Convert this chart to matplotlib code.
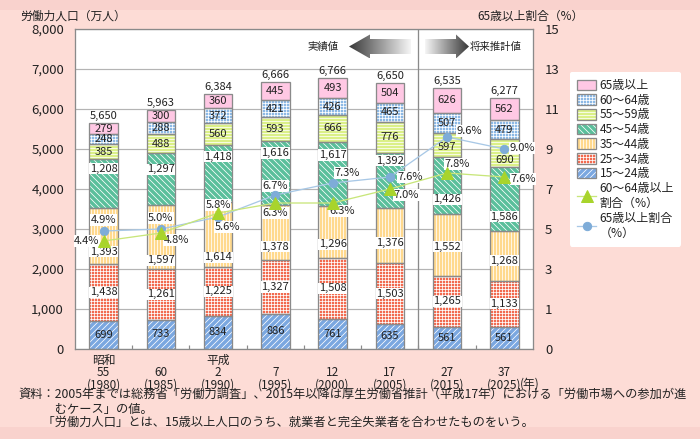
import matplotlib.pyplot as plt
import numpy as np
from matplotlib.patches import Patch, Polygon, Rectangle
from matplotlib.colors import LinearSegmentedColormap

# drawn at 72 dpi so that hatch spacing lands on whole pixels
K = 100 / 72

plt.rcParams['font.family'] = ['Noto Sans CJK JP', 'DejaVu Sans']
plt.rcParams['hatch.color'] = 'white'
plt.rcParams['hatch.linewidth'] = 0.75

# ---- data ----
eras = ['昭和', '', '平成', '', '', '', '', '']
era_years = ['55', '60', '2', '7', '12', '17', '27', '37']
ad_years = ['(1980)', '(1985)', '(1990)', '(1995)', '(2000)', '(2005)', '(2015)', '(2025)']

age_15_24 = [699, 733, 834, 886, 761, 635, 561, 561]
age_25_34 = [1438, 1261, 1225, 1327, 1508, 1503, 1265, 1133]
age_35_44 = [1393, 1597, 1614, 1378, 1296, 1376, 1552, 1268]
age_45_54 = [1208, 1297, 1418, 1616, 1617, 1392, 1426, 1586]
age_55_59 = [385, 488, 560, 593, 666, 776, 597, 690]
age_60_64 = [248, 288, 372, 421, 426, 465, 507, 479]
age_65_up = [279, 300, 360, 445, 493, 504, 626, 562]
totals = [5650, 5963, 6384, 6666, 6766, 6650, 6535, 6277]

share_60_64 = [4.4, 4.8, 5.8, 6.3, 6.3, 7.0, 7.8, 7.6]
share_65_up = [4.9, 5.0, 5.6, 6.7, 7.3, 7.6, 9.6, 9.0]

# label nudges (pixels, + = down) copied from the original layout
nudge_45_54 = [-15, -10, -17, -20, -19, -20, 14, 18]
nudge_35_44 = [16, 23, 23, 14, 12, 7, 2, 5]
nudge_55_59 = [0, 0, 0, 0, 0, 0, 2, 7]
zero = [0] * 8

# (values, legend name, colour, hatch, nudges, white box)
layers = [
    (age_15_24, '15～24歳', '#7aa7e0', '////', zero, False),
    (age_25_34, '25～34歳', '#f26b50', '++++', zero, True),
    (age_35_44, '35～44歳', '#ffd98e', '||||', nudge_35_44, True),
    (age_45_54, '45～54歳', '#5abf9b', '\\\\\\\\', nudge_45_54, True),
    (age_55_59, '55～59歳', '#dbf088', '----', nudge_55_59, False),
    (age_60_64, '60～64歳', '#8db9e5', '++++', zero, False),
    (age_65_up, '65歳以上', '#ffc8e4', None, zero, False),
]

# percent label offsets (dx, dy in pixels, + = up) and alignment
pct65_pos = [(0, 11, 'center'), (0, 11, 'center'), (9, -10, 'center'), (0, 9, 'center'),
             (15, 10, 'center'), (8, 0, 'left'), (9, 6, 'left'), (5, 1, 'left')]
pct60_pos = [(-4, 0, 'right'), (3, -7, 'left'), (0, 8, 'center'), (0, -10, 'center'),
             (10, -8, 'center'), (4, -6, 'left'), (10, 9, 'center'), (6, -2, 'left')]

edge = '#8a8a8a'
txt = '#222222'

fig = plt.figure(figsize=(700 / 72, 439 / 72), dpi=72)
fig.patch.set_facecolor('#fddcd6')

bg = fig.add_axes([0, 0, 1, 1], zorder=-5)
bg.add_patch(Rectangle((0, 0), 700, 10, color='#f9d2cd', lw=0))
bg.add_patch(Rectangle((0, 427), 700, 12, color='#f9d2cd', lw=0))
bg.set_xlim(0, 700)
bg.set_ylim(439, 0)
bg.axis('off')

ax = fig.add_axes([75 / 700, 90 / 439, 458 / 700, 320 / 439])
x = np.arange(len(totals)) + 0.5
bottom = np.zeros(len(totals))
handles = []
for vals, name, color, hatch, nudges, box in layers:
    vals = np.array(vals)
    ax.bar(x, vals, 0.5, bottom=bottom, color=color, hatch=hatch, linewidth=0, zorder=2)
    ax.bar(x, vals, 0.5, bottom=bottom, fill=False, edgecolor=edge, linewidth=1.3, zorder=3)
    for xi, b, v, n in zip(x, bottom, vals, nudges):
        kw = dict(boxstyle='square,pad=0.05', fc='white', ec='none') if box else None
        ax.annotate(f'{v:,}', (xi, b + v / 2), xytext=(0, -n), textcoords='offset pixels',
                    ha='center', va='center', fontsize=8 * K, color=txt, bbox=kw, zorder=5)
    bottom += vals
    handles.append((Patch(facecolor=color, hatch=hatch, linewidth=0),
                    Patch(fill=False, edgecolor=edge, linewidth=1.3), name))

for xi, t in zip(x, totals):
    ax.annotate(f'{t:,}', (xi, t), xytext=(0, 2), textcoords='offset pixels',
                ha='center', va='bottom', fontsize=8 * K, color=txt)

ax.set_xlim(0, 8)
ax.set_ylim(0, 8000)
ax.set_yticks(range(0, 8001, 1000))
ax.set_yticklabels([f'{v:,}' for v in range(0, 8001, 1000)])
ax.set_xticks(range(1, 8))
ax.set_xticklabels([])
ax.tick_params(axis='x', direction='in', length=4, width=1.2, color=edge)
ax.tick_params(axis='y', length=0, pad=11, labelsize=9.5 * K, labelcolor=txt)
ax.yaxis.grid(True, color='#b4b4b4', lw=1.2)
ax.set_axisbelow(True)
ax.axvline(6, color=edge, lw=1.3, zorder=1)
for s in ax.spines.values():
    s.set_color(edge)
    s.set_linewidth(1.3)

for i, xi in enumerate(x):
    ax.annotate(f'{eras[i]}\n{era_years[i]}\n{ad_years[i]}', (xi, 0),
                xycoords=('data', 'axes fraction'), xytext=(0, -24),
                textcoords='offset pixels', ha='center', va='center',
                multialignment='center', linespacing=0.95, fontsize=8.5 * K, color=txt)
ax.annotate('(年)', (x[-1], 0), xycoords=('data', 'axes fraction'), xytext=(16, -35),
            textcoords='offset pixels', ha='left', va='center', fontsize=8.5 * K, color=txt)

ax2 = ax.twinx()
ax2.set_ylim(-1, 15)
ax2.set_yticks(range(-1, 16, 2))
ax2.set_yticklabels(['0'] + [str(v) for v in range(1, 16, 2)])
ax2.tick_params(axis='y', length=0, pad=12, labelsize=9.5 * K, labelcolor=txt)
for s in ax2.spines.values():
    s.set_visible(False)

l65, = ax2.plot(x, share_65_up, color='#a8c8e6', lw=1.3, marker='o', ms=6 * K,
                mfc='#7eacd8', mec='#7eacd8', zorder=4)
l60, = ax2.plot(x, share_60_64, color='#c8e67a', lw=1.3, marker='^', ms=8 * K,
                mfc='#a8d42c', mec='#a8d42c', zorder=4)

box = dict(boxstyle='square,pad=0.05', fc='white', ec='none')
for xi, v, (dx, dy, ha) in zip(x, share_65_up, pct65_pos):
    ax2.annotate(f'{v:.1f}%', (xi, v), xytext=(dx, dy), textcoords='offset pixels',
                 ha=ha, va='center', fontsize=8 * K, color=txt, bbox=box, zorder=3)
for xi, v, (dx, dy, ha) in zip(x, share_60_64, pct60_pos):
    ax2.annotate(f'{v:.1f}%', (xi, v), xytext=(dx, dy), textcoords='offset pixels',
                 ha=ha, va='center', fontsize=8 * K, color=txt, bbox=box, zorder=3)

# axis titles
fig.text(20 / 700, 1 - 16 / 439, '労働力人口（万人）', fontsize=8.5 * K, color=txt, va='center')
fig.text(530 / 700, 1 - 16 / 439, '65歳以上割合（%）', fontsize=8.5 * K, color=txt,
         va='center', ha='center')

# 実績値 / 将来推計値 arrows
deco = fig.add_axes([0, 0, 1, 1], zorder=10)
deco.patch.set_alpha(0)
cmap = LinearSegmentedColormap.from_list('g', ['#383838', '#f6f6f6'])
grad = np.linspace(0, 1, 256)[None, :]
left_arrow = [(349, 46.5), (370, 34.5), (370, 39), (411, 39), (411, 54), (370, 54), (370, 58.5)]
right_arrow = [(425, 39), (456, 39), (456, 34.5), (469, 46.5), (456, 58.5), (456, 54), (425, 54)]
for pts, g in [(left_arrow, grad), (right_arrow, grad[:, ::-1])]:
    poly = Polygon(pts, closed=True, fc='none', ec='none')
    deco.add_patch(poly)
    xs = [p[0] for p in pts]
    im = deco.imshow(g, cmap=cmap, extent=(min(xs), max(xs), 58.5, 34.5), aspect='auto')
    im.set_clip_path(poly)
deco.text(323, 46.5, '実績値', fontsize=7.5 * K, ha='center', va='center', color=txt)
deco.text(496, 46.5, '将来推計値', fontsize=7.5 * K, ha='center', va='center', color=txt)
deco.set_xlim(0, 700)
deco.set_ylim(439, 0)
deco.axis('off')

# legend
leg_handles = [(h[0], h[1]) for h in handles[::-1]] + [l60, l65]
leg_labels = [h[2] for h in handles[::-1]] + ['60～64歳以上\n割合（%）', '65歳以上割合\n（%）']
leg = fig.legend(leg_handles, leg_labels, loc='upper left',
                 bbox_to_anchor=(564 / 700, 1 - 66 / 439), fontsize=8.6 * K,
                 frameon=True, fancybox=True, facecolor='white', edgecolor='none',
                 framealpha=1, handlelength=1.6, handleheight=1.0, labelspacing=0.14,
                 handletextpad=0.3, borderpad=0.6)
for t in leg.get_texts():
    t.set_color(txt)

# footnotes
fig.text(18 / 700, 1 - 409 / 439,
         '資料：2005年までは総務省「労働力調査」、2015年以降は厚生労働省推計（平成17年）における「労働市場への参加が進\n'
         '　　　むケース」の値。\n'
         '　　「労働力人口」とは、15歳以上人口のうち、就業者と完全失業者を合わせたものをいう。',
         fontsize=8.8 * K, color=txt, va='center', linespacing=1.05)

fig.savefig('out.png', dpi=72, facecolor=fig.get_facecolor())
